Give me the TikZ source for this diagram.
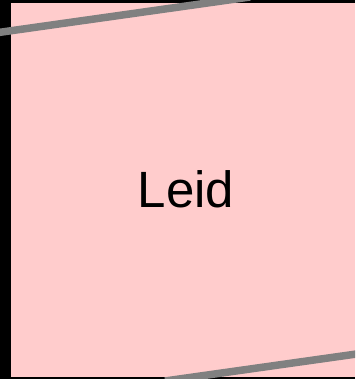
\documentclass[tikz,border=0pt]{standalone}
\usepackage{fontspec}
\setmainfont{Liberation Sans}
\definecolor{mypink}{RGB}{255,204,204}
\definecolor{mygray}{RGB}{128,128,128}

\begin{document}
\begin{tikzpicture}[x=1pt,y=1pt]
  \useasboundingbox (0,0) rectangle (355,379);
  \clip (0,0) rectangle (355,379);
  % black frame and the pink field
  \fill[black] (0,0) rectangle (355,379);
  \fill[mypink] (11,2) rectangle (355,376);
  % the two gray edges
  \draw[mygray,line width=7.5pt] (-5,346) -- (250,382);
  \draw[mygray,line width=7.5pt] (165,-2) -- (360,25.5);
  \node[font=\fontsize{51}{60}\selectfont,inner sep=0pt] (leid) at (186,190) {Leid};
\end{tikzpicture}
\end{document}
